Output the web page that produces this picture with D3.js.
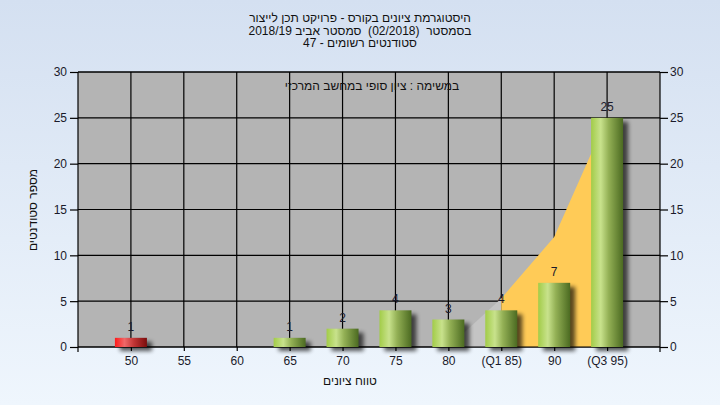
<!DOCTYPE html>
<html><head><meta charset="utf-8">
<script src="https://cdn.jsdelivr.net/npm/d3@7"></script>
<style>body{margin:0;background:#fff}text{font-family:"Liberation Sans",Arial,sans-serif}</style></head>
<body><svg id="c" width="720" height="405"></svg>
<script>
const categories=[50,55,60,65,70,75,80,85,90,95];
const tickLabels=["50","55","60","65","70","75","80","(Q1 85)","90","(Q3 95)"];
const counts=[1,0,0,1,2,4,3,4,7,25];
const redBars=[50];
const areaX=[80,85,90,95];
const areaY=[0,5.3,12,25];
const quartileStart=85;
const yTicks=[0,5,10,15,20,25,30];
const titleLines=["היסטוגרמת ציונים בקורס - פרויקט תכן לייצור","בסמסטר\u00a0\u00a0(02/2018)\u00a0\u00a0סמסטר אביב 2018/19","סטודנטים רשומים - 47"];
const subTitle="במשימה : ציון סופי במחשב המרכזי";
const yTitle="מספר סטודנטים";
const xTitle="טווח ציונים";

const svg=d3.select("#c");
const W=720,H=405,L=78,R=660,T=72,B=347;
const defs=svg.append("defs");
const bg=defs.append("linearGradient").attr("id","bg").attr("x1",0).attr("y1",0).attr("x2",0).attr("y2",1);
bg.append("stop").attr("offset","0%").attr("stop-color","#d4e0f1");
bg.append("stop").attr("offset","100%").attr("stop-color","#eff6fd");
const gg=defs.append("linearGradient").attr("id","gbar");
[["0%","#a2cc48"],["30%","#c8e28c"],["55%","#93b055"],["100%","#4b6a21"]].forEach(s=>gg.append("stop").attr("offset",s[0]).attr("stop-color",s[1]));
const rg=defs.append("linearGradient").attr("id","rbar");
[["0%","#ff1a1a"],["30%","#f06868"],["60%","#c03434"],["100%","#7a0c0c"]].forEach(s=>rg.append("stop").attr("offset",s[0]).attr("stop-color",s[1]));
const f=defs.append("filter").attr("id","blur").attr("x","-50%").attr("y","-50%").attr("width","200%").attr("height","200%");
f.append("feGaussianBlur").attr("stdDeviation",2.2);

svg.append("rect").attr("width",W).attr("height",H).attr("fill","url(#bg)");

const x=d3.scaleLinear().domain([45,100]).range([L,R]);
const y=d3.scaleLinear().domain([0,30]).range([B,T]);

svg.append("rect").attr("x",L).attr("y",T).attr("width",R-L).attr("height",B-T).attr("fill","#b4b4b4");

const idxQ=areaX.indexOf(quartileStart);
const lowPts=areaY.slice(0,idxQ+1), lowX=areaX.slice(0,idxQ+1);
const hiPts=areaY.slice(idxQ), hiX=areaX.slice(idxQ);

// grid
svg.append("g").selectAll("line").data(yTicks).join("line")
 .attr("x1",L).attr("x2",R).attr("y1",d=>y(d)).attr("y2",d=>y(d)).attr("stroke","#000").attr("stroke-width",1.2);
svg.append("g").selectAll("line").data(categories).join("line")
 .attr("x1",d=>x(d)).attr("x2",d=>x(d)).attr("y1",T).attr("y2",B).attr("stroke","#000").attr("stroke-width",1.2);

svg.append("path").attr("d",d3.area().x((d,i)=>x(lowX[i])).y0(y(0)).y1(d=>y(d))(lowPts)).attr("fill","#c4c4c4");
svg.append("path").attr("d",d3.area().x((d,i)=>x(hiX[i])).y0(y(0)).y1(d=>y(d))(hiPts)).attr("fill","#ffcb57");

// axes
const ax=svg.append("g").attr("transform",`translate(${L},0)`).call(d3.axisLeft(y).tickValues(yTicks).tickSize(8).tickPadding(3));
const ax2=svg.append("g").attr("transform",`translate(${R},0)`).call(d3.axisRight(y).tickValues(yTicks).tickSize(8).tickPadding(2));
const ax3=svg.append("g").attr("transform",`translate(0,${B})`).call(d3.axisBottom(x).tickValues(categories).tickFormat((d,i)=>tickLabels[i]).tickSize(4).tickPadding(5));
[ax,ax2,ax3].forEach(a=>{a.select(".domain").remove();a.selectAll("line").attr("stroke","#000").attr("stroke-width",1.2);a.selectAll("text").attr("font-size",12).attr("fill","#1a1a2a").attr("font-family","Liberation Sans, Arial, sans-serif");});
svg.append("line").attr("x1",L).attr("x2",L).attr("y1",T).attr("y2",B+5).attr("stroke","#000").attr("stroke-width",1.2);
svg.append("line").attr("x1",R).attr("x2",R).attr("y1",T).attr("y2",B+5).attr("stroke","#000").attr("stroke-width",1.2);
svg.append("line").attr("x1",L).attr("x2",R).attr("y1",T).attr("y2",T).attr("stroke","#000").attr("stroke-width",1.2);
svg.append("line").attr("x1",L).attr("x2",R).attr("y1",B).attr("y2",B).attr("stroke","#000").attr("stroke-width",1.2);

// bars
const bw=32;
const data=categories.map((c,i)=>({c,v:counts[i]})).filter(d=>d.v>0);
svg.append("g").selectAll("rect").data(data).join("rect")
 .attr("x",d=>x(d.c)-bw/2+5).attr("y",d=>y(d.v)+4).attr("width",bw).attr("height",d=>y(0)-y(d.v)).attr("fill","#000").attr("opacity",0.65).attr("filter","url(#blur)");
svg.append("g").selectAll("rect").data(data).join("rect")
 .attr("x",d=>x(d.c)-bw/2).attr("y",d=>y(d.v)).attr("width",bw).attr("height",d=>y(0)-y(d.v))
 .attr("fill",d=>redBars.includes(d.c)?"url(#rbar)":"url(#gbar)");
svg.append("g").selectAll("text").data(data).join("text")
 .attr("x",d=>x(d.c)).attr("y",d=>y(d.v)-7).attr("text-anchor","middle").attr("font-size",12).attr("fill","#1a1a2a").text(d=>d.v);

// titles
svg.append("g").selectAll("text").data(titleLines).join("text")
 .attr("x",360).attr("y",(d,i)=>22+i*12.5).attr("text-anchor","middle").attr("direction","rtl").style("direction","rtl").style("unicode-bidi","embed").attr("font-size",12).attr("fill","#111").text(d=>d);
svg.append("text").attr("x",372).attr("y",90).attr("text-anchor","middle").attr("direction","rtl").style("direction","rtl").attr("font-size",12).attr("fill","#111").text(subTitle);
svg.append("text").attr("transform","translate(37,210) rotate(-90)").attr("text-anchor","middle").attr("direction","rtl").style("direction","rtl").attr("font-size",12).attr("fill","#111").text(yTitle);
svg.append("text").attr("x",350).attr("y",385).attr("text-anchor","middle").attr("direction","rtl").style("direction","rtl").attr("font-size",12).attr("fill","#111").text(xTitle);
</script></body></html>
